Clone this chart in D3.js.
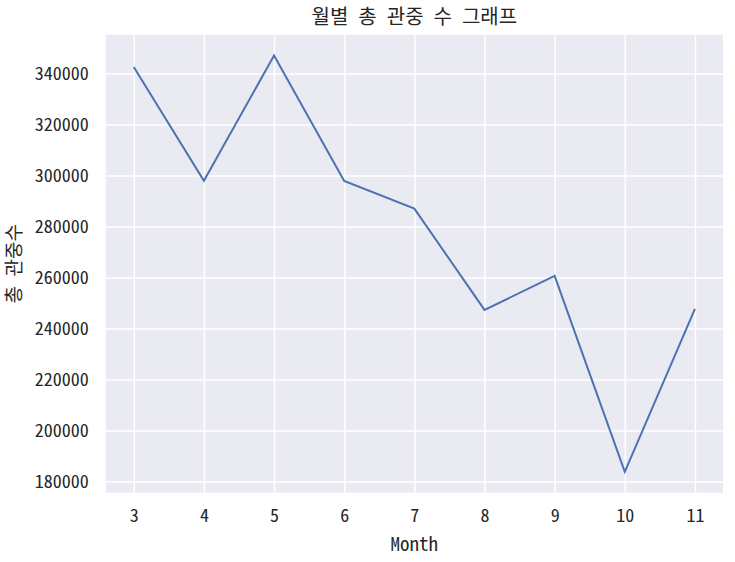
<!DOCTYPE html>
<html><head><meta charset="utf-8">
<script src="https://cdn.jsdelivr.net/npm/d3@7"></script>
<style>
body{margin:0;background:#fff;}
text{font-family:"Noto Sans Mono CJK KR","Noto Sans CJK KR","DejaVu Sans Mono",monospace;fill:#262626;}
</style></head>
<body><svg id="c" width="735" height="562"></svg>
<script>
const months = [3,4,5,6,7,8,9,10,11];
const audience = [342500,297900,347000,297800,287000,247300,260600,183800,247700];
const yTicks = [180000,200000,220000,240000,260000,280000,300000,320000,340000];
const title = "월별 총 관중 수 그래프";
const xLabel = "Month";
const yLabel = "총 관중수";

const svg = d3.select("#c");
const L=105.7, R=723, T=34.7, B=492.7;
const xmin=d3.min(months), xmax=d3.max(months), xpad=(xmax-xmin)*0.05;
const ymin=d3.min(audience), ymax=d3.max(audience), ypad=(ymax-ymin)*0.05;
const x=d3.scaleLinear().domain([xmin-xpad,xmax+xpad]).range([L,R]);
const y=d3.scaleLinear().domain([ymin-ypad,ymax+ypad]).range([B,T]);

svg.append("rect").attr("x",L).attr("y",T).attr("width",R-L).attr("height",B-T).attr("fill","#EAEAF2");

const gx=svg.append("g").attr("transform",`translate(0,${B})`)
  .call(d3.axisBottom(x).tickValues(months).tickSize(-(B-T)).tickPadding(17).tickFormat(d3.format("d")));
const gy=svg.append("g").attr("transform",`translate(${L},0)`)
  .call(d3.axisLeft(y).tickValues(yTicks).tickSize(-(R-L)).tickPadding(17).tickFormat(d3.format("d")));
[gx,gy].forEach(g=>{
  g.select(".domain").remove();
  g.selectAll(".tick line").attr("stroke","#fff").attr("stroke-width",1.5);
  g.selectAll(".tick text").attr("font-size","18px").attr("fill","#262626");
});

svg.append("path").datum(months.map((m,i)=>[m,audience[i]]))
  .attr("fill","none").attr("stroke","#4C72B0").attr("stroke-width",2)
  .attr("d",d3.line().x(d=>x(d[0])).y(d=>y(d[1])));

svg.append("text").attr("x",(L+R)/2).attr("y",24).attr("text-anchor","middle").attr("font-size","20px").text(title);
svg.append("text").attr("x",(L+R)/2).attr("y",551).attr("text-anchor","middle").attr("font-size","19px").text(xLabel);
svg.append("text").attr("transform",`translate(21,${(T+B)/2}) rotate(-90)`).attr("text-anchor","middle").attr("font-size","19px").text(yLabel);
</script></body></html>
